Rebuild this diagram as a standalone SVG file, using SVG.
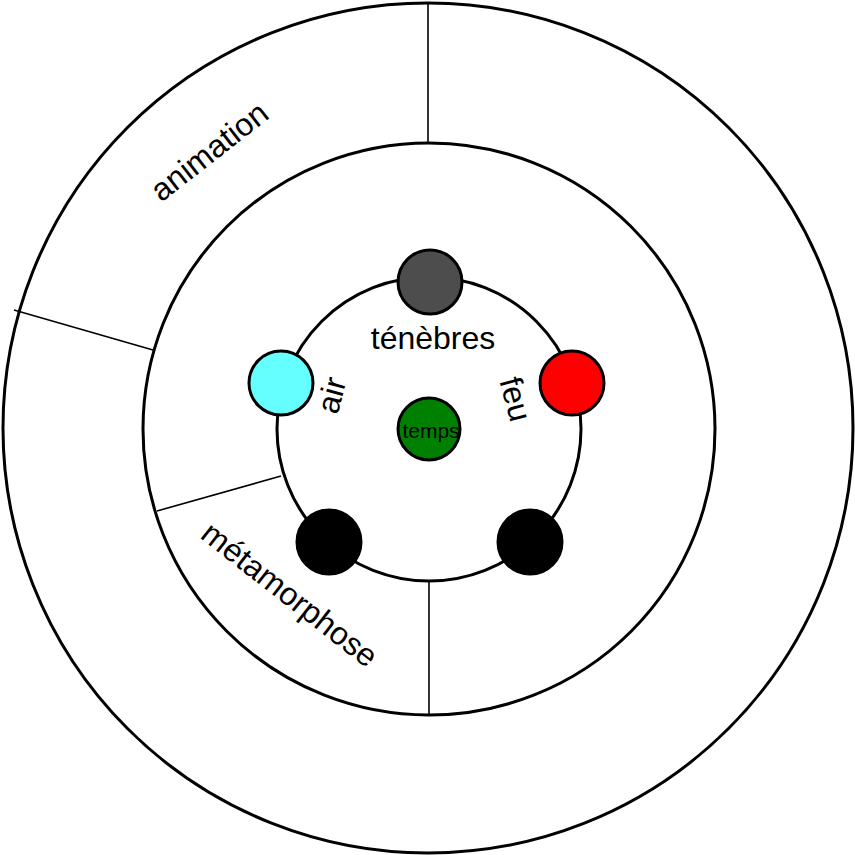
<svg xmlns="http://www.w3.org/2000/svg" width="855" height="855" viewBox="0 0 855 855">
<style>
.ring{fill:none;stroke:#000;stroke-width:3}
.div{stroke:#000;stroke-width:1.6;fill:none}
.node{stroke:#000;stroke-width:3}
.lbl{font-family:"Liberation Sans",Arial,sans-serif;font-size:32px;fill:#000;text-anchor:middle}
</style>
<rect width="855" height="855" fill="#fff"/>
<g id="rings">
<circle class="ring" cx="428" cy="428" r="425"/>
<circle class="ring" cx="429" cy="429" r="286"/>
<circle class="ring" cx="429" cy="429" r="152"/>
</g>
<g id="connectors">
<line class="div" x1="428" y1="3" x2="428" y2="143"/>
<line class="div" x1="429" y1="581" x2="429" y2="715"/>
<line class="div" x1="14" y1="310" x2="153" y2="350"/>
<line class="div" x1="157" y1="511" x2="281" y2="476"/>
</g>
<g id="sector-animation"><text class="lbl" transform="translate(216,160) rotate(-38)">animation</text></g>
<g id="sector-metamorphose"><text class="lbl" transform="translate(283,603) rotate(38)">métamorphose</text></g>
<g id="node-tenebres">
<circle class="node" cx="430" cy="282" r="32" fill="#4d4d4d"/>
<text class="lbl" x="433" y="349">ténèbres</text>
</g>
<g id="node-air">
<circle class="node" cx="281" cy="383" r="32" fill="#66ffff"/>
<text class="lbl" transform="translate(342,398) rotate(-75)">air</text>
</g>
<g id="node-feu">
<circle class="node" cx="572" cy="383" r="32" fill="#ff0000"/>
<text class="lbl" transform="translate(505,402) rotate(75)">feu</text>
</g>
<g id="node-temps">
<circle class="node" cx="429" cy="429" r="31" fill="#008000"/>
<text class="lbl" x="431" y="438" style="font-size:21px">temps</text>
</g>
<g id="node-black-left"><circle class="node" cx="329" cy="542" r="32" fill="#000"/></g>
<g id="node-black-right"><circle class="node" cx="530" cy="542" r="32" fill="#000"/></g>
</svg>
